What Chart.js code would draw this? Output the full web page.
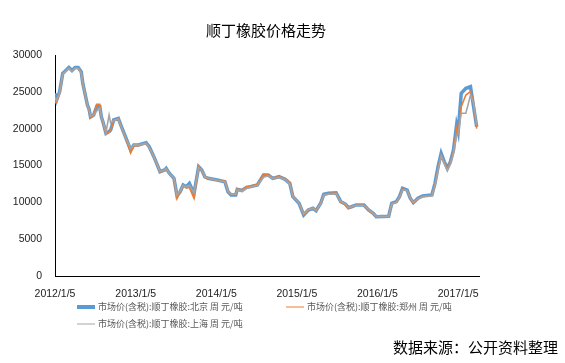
<!DOCTYPE html>
<html>
<head>
<meta charset="utf-8">
<script src="https://cdn.jsdelivr.net/npm/chart.js@4"></script>
<style>
    body { margin: 0; background: #fff; }
    #wrap { width: 565px; height: 363px; }
</style>
</head>
<body>
<div id="wrap"><canvas id="rubberChart" width="565" height="363"></canvas></div>
<script>
// week number counted from 2012/1/5
const weeks = [
    0, 1, 3, 5, 6, 9, 11, 13, 15, 17,
    18, 21, 22, 23, 25, 27, 29, 30, 31, 33,
    35, 36, 38, 41, 43, 46, 49, 51, 54, 59,
    61, 64, 68, 71, 72, 74, 77, 79, 81, 83,
    85, 87, 90, 93, 95, 97, 99, 105, 110, 112,
    114, 117, 118, 121, 124, 126, 131, 135, 138, 141,
    145, 149, 152, 154, 158, 161, 164, 167, 169, 172,
    174, 177, 182, 185, 188, 190, 192, 195, 200, 203,
    206, 208, 216, 218, 221, 223, 225, 228, 230, 232,
    235, 238, 244, 246, 248, 250, 252, 254, 256, 258,
    260, 261, 263, 266, 269, 271, 273
];

const beijing = [
    24800, 23900, 25000, 27500, 27700, 28300, 27900, 28300, 28300, 27700,
    26150, 23200, 22700, 21600, 21850, 23000, 23000, 21600, 20950, 19370,
    19600, 19800, 21180, 21400, 20270, 18700, 17100, 17780, 17780, 18100,
    17550, 16200, 14160, 14390, 14620, 13940, 13260, 10900, 11440, 12350,
    12120, 12580, 11200, 14840, 14390, 13480, 13260, 13030, 12800, 11440,
    11000, 11000, 11770, 11600, 12040, 12100, 12350, 13710, 13710, 13260,
    13480, 13120, 12580, 10770, 9870, 8280, 8960, 9190, 8870, 9870,
    11090, 11220, 11300, 10090, 9770, 9270, 9400, 9640, 9640, 8960,
    8510, 8050, 8100, 9870, 10090, 10770, 11900, 11670, 10550, 9950,
    10550, 10860, 11000, 12580, 14840, 16660, 15520, 14620, 15520, 17100,
    20500, 19590, 24800, 25480, 25700, 22980, 20270
];

const zhengzhou = [
    23600, 23500, 24800, 27400, 27600, 28200, 27800, 28200, 28200, 27600,
    26000, 23100, 22600, 21500, 21800, 23300, 23300, 21500, 20900, 19300,
    19500, 19700, 21100, 21300, 20200, 18600, 16700, 17700, 17700, 18000,
    17500, 16100, 14100, 14300, 14500, 13900, 13200, 10500, 11400, 12300,
    12000, 12000, 10550, 14900, 14300, 13400, 13200, 13000, 12900, 11500,
    11100, 11100, 11800, 11700, 12100, 12200, 12400, 13800, 13700, 13300,
    13500, 13200, 12700, 10900, 9900, 8300, 9000, 9250, 8900, 9900,
    11000, 11200, 11250, 10000, 9700, 9200, 9350, 9600, 9600, 8900,
    8450, 8000, 8050, 9800, 10000, 10700, 11800, 11600, 10500, 9900,
    10500, 10800, 10950, 12400, 14500, 16300, 15400, 14500, 15400, 16900,
    20000, 19400, 22980, 24570, 25020, 23500, 20000
];

const shanghai = [
    24200, 23800, 24900, 27400, 27600, 28200, 27800, 28200, 28200, 27600,
    26100, 23200, 22700, 21700, 21900, 22400, 22800, 21700, 21000, 19500,
    21850, 20800, 21100, 21300, 20200, 18700, 17300, 17800, 17800, 18000,
    17500, 16200, 14200, 14400, 14600, 13900, 13300, 11000, 11500, 12300,
    12100, 12300, 11300, 14700, 14400, 13500, 13300, 13000, 12800, 11500,
    11100, 11100, 11700, 11500, 11900, 12000, 12300, 13400, 13600, 13200,
    13400, 13100, 12500, 10800, 9900, 8400, 9000, 9200, 8900, 9800,
    11000, 11100, 11200, 10100, 9800, 9300, 9400, 9600, 9600, 9000,
    8500, 8100, 8100, 9800, 10000, 10700, 11700, 11600, 10600, 10000,
    10500, 10800, 10900, 12300, 14400, 16300, 15300, 14300, 15200, 16700,
    19100, 19300, 22090, 22090, 24570, 23500, 20500
];

const tickLabels = ['2012/1/5', '2013/1/5', '2014/1/5', '2015/1/5', '2016/1/5', '2017/1/5'];

// tick positions in weeks from the first date
const toWeek = s => {
    const [y, m, d] = s.split('/').map(Number);
    return (Date.UTC(y, m - 1, d) - Date.UTC(2012, 0, 5)) / (7 * 864e5);
};
const tickWeeks = tickLabels.map(toWeek);

const pts = arr => arr.map((v, i) => ({ x: weeks[i], y: v }));

// title, legend and source note drawn at fixed spots
const decorations = {
    id: 'decorations',
    afterDraw(chart) {
        const ctx = chart.ctx;
        ctx.save();
        ctx.fillStyle = '#000';
        ctx.font = '15px "Noto Sans CJK SC"';
        ctx.textAlign = 'center';
        ctx.textBaseline = 'middle';
        ctx.fillText('顺丁橡胶价格走势', 266, 30);

        const spots = [[77, 307], [286, 307], [77, 324]];
        ctx.font = '9px "Noto Sans CJK SC"';
        ctx.textAlign = 'left';
        chart.data.datasets.forEach((ds, i) => {
            const [x, y] = spots[i];
            ctx.strokeStyle = ds.borderColor;
            ctx.lineWidth = ds.legendWidth;
            ctx.beginPath();
            ctx.moveTo(x, y);
            ctx.lineTo(x + 18, y);
            ctx.stroke();
            ctx.fillStyle = '#595959';
            ctx.fillText(ds.label, x + 21, y);
        });

        ctx.fillStyle = '#000';
        ctx.font = '15px "Noto Sans CJK SC"';
        ctx.fillText('数据来源：公开资料整理', 393, 347);
        ctx.restore();
    }
};

const ctx = document.getElementById('rubberChart').getContext('2d');
const rubberChart = new Chart(ctx, {
    type: 'line',
    data: {
        datasets: [{
            label: '市场价(含税):顺丁橡胶:北京 周 元/吨',
            data: pts(beijing),
            borderColor: '#5B9BD5',
            borderWidth: 3.5,
            legendWidth: 4,
            order: 3
        }, {
            label: '市场价(含税):顺丁橡胶:郑州 周 元/吨',
            data: pts(zhengzhou),
            borderColor: '#ED7D31',
            borderWidth: 1.6,
            legendWidth: 1,
            order: 2
        }, {
            label: '市场价(含税):顺丁橡胶:上海 周 元/吨',
            data: pts(shanghai),
            borderColor: '#A5A5A5',
            borderWidth: 1.6,
            legendWidth: 1,
            order: 1
        }]
    },
    options: {
        responsive: false,
        animation: false,
        layout: {
            padding: { left: 0, top: 55, right: 86, bottom: 57 }
        },
        elements: {
            point: { radius: 0 },
            line: { tension: 0, fill: false }
        },
        scales: {
            x: {
                type: 'linear',
                min: 0,
                max: 274.5,
                afterBuildTicks: s => { s.ticks = tickWeeks.map(v => ({ value: v })); },
                afterFit: s => { s.height = 30; },
                grid: { display: false },
                border: { display: true, color: '#000', width: 1 },
                ticks: {
                    autoSkip: false,
                    maxRotation: 0,
                    padding: 4,
                    color: '#222',
                    font: { family: 'Liberation Sans', size: 10.5 },
                    callback: (v, i) => tickLabels[i]
                }
            },
            y: {
                min: 0,
                max: 30000,
                afterFit: s => { s.width = 55; },
                grid: { display: false, drawTicks: false },
                border: { display: true, color: '#000', width: 1 },
                ticks: {
                    stepSize: 5000,
                    padding: 13,
                    color: '#222',
                    font: { family: 'Liberation Sans', size: 10.5 },
                    callback: v => String(v)
                }
            }
        },
        plugins: {
            legend: { display: false },
            tooltip: { enabled: false }
        }
    },
    plugins: [decorations]
});
</script>
</body>
</html>
